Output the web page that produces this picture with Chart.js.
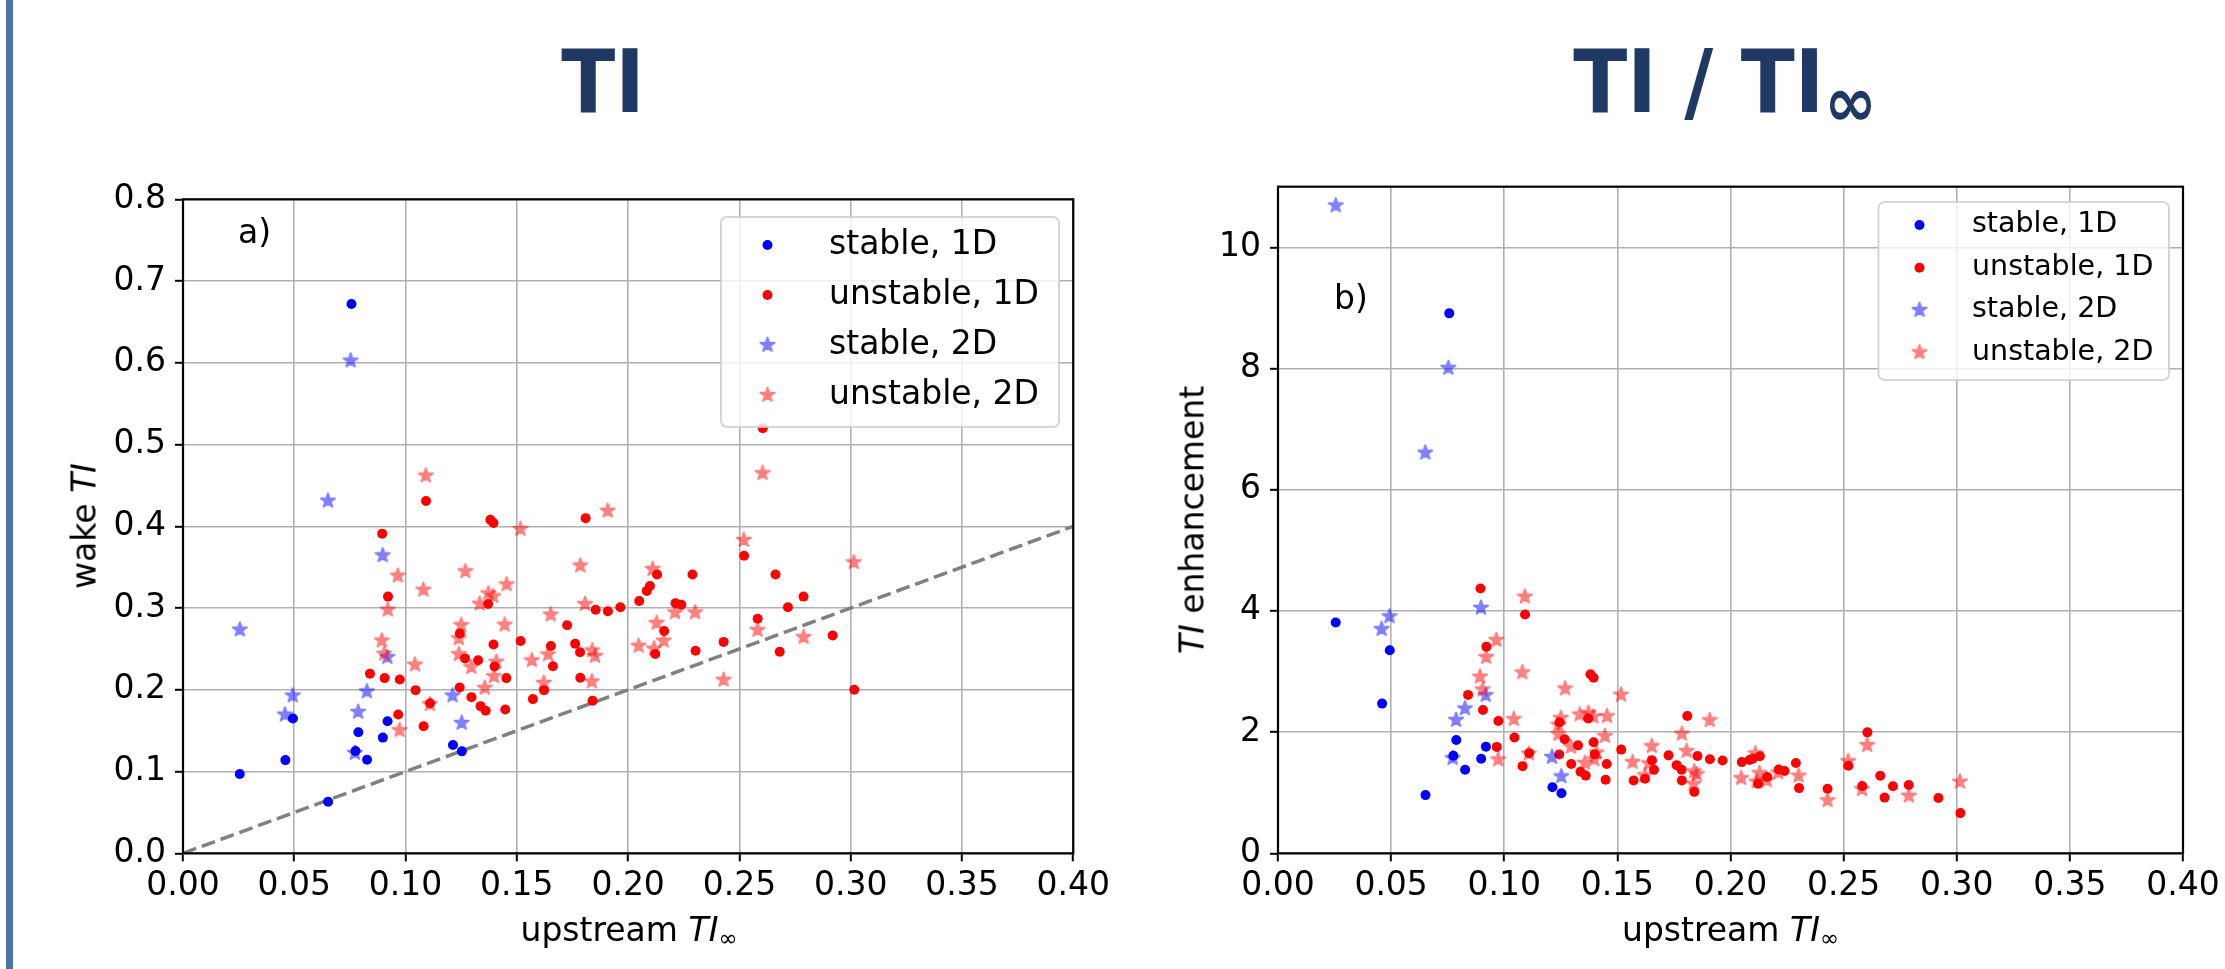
<!DOCTYPE html>
<html>
<head>
<meta charset="utf-8">
<script src="https://cdn.jsdelivr.net/npm/chart.js@4.4.1/dist/chart.umd.min.js"></script>
<style>
  html, body { margin:0; padding:0; background:#fff; }
  body { width:2225px; height:969px; position:relative; overflow:hidden; font-family:"DejaVu Sans", sans-serif; }
  #bar { position:absolute; left:6px; top:0; width:7px; height:969px; background:#4a73a8; }
  .title { position:absolute; top:38px; font-family:"Liberation Sans Narrow","Arial Narrow","DejaVu Sans Condensed",sans-serif; font-stretch:condensed; font-weight:bold; font-size:88px; line-height:88px; color:#1f3864; white-space:nowrap; transform:translateX(-50%); }
  .title .inf { font-size:70px; line-height:0; position:relative; top:14px; }
  canvas { position:absolute; top:0; }
  .lab { position:absolute; font-family:"DejaVu Sans", sans-serif; font-size:33px; line-height:33px; color:#000; white-space:nowrap; }
  .lab .sub { font-size:23px; line-height:0; position:relative; top:5px; }
  .xl { transform:translate(-50%,-50%); }
  .yl { transform:translate(-50%,-50%) rotate(-90deg); }
</style>
</head>
<body>
<div id="bar"></div>
<div class="title" style="left:603px;">TI</div>
<div class="title" style="left:1725px;">TI / TI<span class="inf">∞</span></div>
<canvas id="c1" width="1115" height="969" style="left:0;width:1115px;height:969px;"></canvas>
<canvas id="c2" width="1115" height="969" style="left:1110px;width:1115px;height:969px;"></canvas>
<div class="lab xl" style="left:629px; top:928.6px;">upstream <i>TI</i><span class="sub">∞</span></div>
<div class="lab xl" style="left:1730.5px; top:928.6px;">upstream <i>TI</i><span class="sub">∞</span></div>
<div class="lab yl" style="left:83.6px; top:526.3px;">wake <i>TI</i></div>
<div class="lab yl" style="left:1191.6px; top:520px;"><i>TI</i> enhancement</div>
<div class="lab" style="left:238px; top:215px;">a)</div>
<div class="lab" style="left:1334px; top:281px;">b)</div>
<script>
// ---------------- data ----------------
const stable1D_x    = [0.0255, 0.046, 0.0494, 0.0652, 0.0757, 0.0775, 0.0788, 0.0827, 0.0898, 0.0919, 0.1213, 0.1253];
const stable1D_wake = [0.097, 0.114, 0.165, 0.063, 0.672, 0.125, 0.148, 0.1145, 0.1415, 0.1616, 0.1325, 0.1247];
const stable1D_enh  = [3.81, 2.47, 3.35, 0.96, 8.91, 1.61, 1.87, 1.38, 1.56, 1.76, 1.09, 0.99];

const unstable1D_x = [0.1092, 0.1381, 0.1395, 0.1809, 0.0895, 0.0921, 0.1371, 0.1854, 0.1909, 0.1965, 0.2050, 0.2084, 0.2098, 0.2130, 0.2289, 0.2213, 0.2239, 0.2521, 0.2662, 0.2788, 0.2718, 0.2582, 0.2919, 0.2681, 0.2429, 0.2303, 0.2162, 0.2122, 0.1726, 0.1762, 0.1784, 0.1653, 0.1662, 0.1517, 0.1395, 0.1244, 0.1267, 0.1326, 0.1400, 0.1453, 0.1785, 0.1622, 0.1572, 0.1840, 0.1448, 0.1360, 0.1337, 0.1296, 0.1243, 0.1045, 0.0974, 0.0906, 0.0840, 0.0967, 0.1081, 0.3016, 0.1110, 0.2605];
const unstable1D_wake = [0.431, 0.408, 0.404, 0.410, 0.391, 0.314, 0.305, 0.298, 0.296, 0.301, 0.3086, 0.321, 0.327, 0.341, 0.341, 0.306, 0.304, 0.364, 0.341, 0.314, 0.301, 0.287, 0.2665, 0.2465, 0.2586, 0.2478, 0.272, 0.2437, 0.279, 0.2563, 0.246, 0.2535, 0.2288, 0.2596, 0.2555, 0.269, 0.2384, 0.2362, 0.2286, 0.2143, 0.2147, 0.1996, 0.1886, 0.1865, 0.1759, 0.1743, 0.180, 0.191, 0.2029, 0.1996, 0.2127, 0.2143, 0.2196, 0.1698, 0.1555, 0.200, 0.1835, 0.520];
const unstable1D_enh = [3.94, 2.954, 2.896, 2.266, 4.37, 3.41, 2.225, 1.607, 1.551, 1.532, 1.505, 1.540, 1.559, 1.601, 1.490, 1.383, 1.358, 1.444, 1.281, 1.126, 1.107, 1.112, 0.913, 0.919, 1.065, 1.076, 1.258, 1.148, 1.616, 1.455, 1.379, 1.534, 1.377, 1.711, 1.832, 2.162, 1.882, 1.781, 1.633, 1.475, 1.203, 1.231, 1.200, 1.014, 1.215, 1.282, 1.346, 1.474, 1.632, 1.910, 2.184, 2.365, 2.614, 1.756, 1.438, 0.663, 1.653, 1.996];

const stable2D_x    = [0.0255, 0.0458, 0.0493, 0.0651, 0.0753, 0.0772, 0.0787, 0.0826, 0.0897, 0.0918, 0.1211, 0.1252];
const stable2D_wake = [0.2736, 0.1697, 0.193, 0.4313, 0.6027, 0.1227, 0.173, 0.198, 0.3645, 0.240, 0.193, 0.1595];
const stable2D_enh  = [10.69, 3.70, 3.91, 6.61, 8.01, 1.57, 2.20, 2.39, 4.05, 2.61, 1.59, 1.27];

const unstable2D_x = [0.1091, 0.1516, 0.1908, 0.2604, 0.2520, 0.3014, 0.0965, 0.1269, 0.1080, 0.1454, 0.1372, 0.1394, 0.1333, 0.0920, 0.1785, 0.2110, 0.1806, 0.1652, 0.1445, 0.1250, 0.1239, 0.0893, 0.0904, 0.1239, 0.1408, 0.1295, 0.1397, 0.1356, 0.1042, 0.1109, 0.0973, 0.1567, 0.1640, 0.1621, 0.1839, 0.1851, 0.1837, 0.2047, 0.2116, 0.2128, 0.2160, 0.2211, 0.2301, 0.2429, 0.2581, 0.2788];
const unstable2D_wake = [0.462, 0.3967, 0.419, 0.465, 0.3833, 0.356, 0.3396, 0.345, 0.3224, 0.329, 0.318, 0.3145, 0.3052, 0.298, 0.352, 0.3478, 0.3049, 0.292, 0.2796, 0.2791, 0.2629, 0.2603, 0.2442, 0.2436, 0.2343, 0.2278, 0.2165, 0.2024, 0.2308, 0.1824, 0.1506, 0.236, 0.2432, 0.2085, 0.2482, 0.2414, 0.2102, 0.2538, 0.2503, 0.2818, 0.260, 0.2947, 0.2947, 0.2122, 0.2731, 0.2645];
const unstable2D_enh = [4.235, 2.617, 2.196, 1.786, 1.521, 1.181, 3.519, 2.719, 2.985, 2.263, 2.318, 2.256, 2.290, 3.239, 1.972, 1.648, 1.688, 1.768, 1.935, 2.233, 2.122, 2.915, 2.701, 1.966, 1.664, 1.759, 1.550, 1.493, 2.215, 1.645, 1.548, 1.506, 1.483, 1.286, 1.350, 1.304, 1.144, 1.240, 1.183, 1.324, 1.204, 1.333, 1.281, 0.874, 1.058, 0.949];

const diag_x = [0, 0.4];
const diag_y = [0, 0.4];

const seriesLabels = ['stable, 1D', 'unstable, 1D', 'stable, 2D', 'unstable, 2D'];
const xTicks = [0, 0.05, 0.10, 0.15, 0.20, 0.25, 0.30, 0.35, 0.40];
const xTickLabels = ['0.00', '0.05', '0.10', '0.15', '0.20', '0.25', '0.30', '0.35', '0.40'];
const yTicksA = [0, 0.1, 0.2, 0.3, 0.4, 0.5, 0.6, 0.7, 0.8];
const yTickLabelsA = ['0.0', '0.1', '0.2', '0.3', '0.4', '0.5', '0.6', '0.7', '0.8'];
const yTicksB = [0, 2, 4, 6, 8, 10];
const yTickLabelsB = ['0', '2', '4', '6', '8', '10'];

// ---------------- helpers ----------------
function pts(xs, ys) { return xs.map((x, i) => ({ x: x, y: ys[i] })); }

function starImage(color, R, lw, alpha) {
  const s = 2 * Math.ceil(R + lw + 2);
  const a = document.createElement('canvas');
  a.width = s; a.height = s;
  const g = a.getContext('2d');
  const cx = s / 2, cy = s / 2;
  g.beginPath();
  for (let i = 0; i < 10; i++) {
    const r = (i % 2 === 0) ? R : R * 0.381966;
    const ang = -Math.PI / 2 + i * Math.PI / 5;
    const px = cx + r * Math.cos(ang), py = cy + r * Math.sin(ang);
    if (i === 0) g.moveTo(px, py); else g.lineTo(px, py);
  }
  g.closePath();
  g.fillStyle = color;
  g.fill();
  g.lineJoin = 'bevel';
  g.lineWidth = lw;
  g.strokeStyle = color;
  g.stroke();
  const c = document.createElement('canvas');
  c.width = s; c.height = s;
  const h = c.getContext('2d');
  h.globalAlpha = alpha;
  h.drawImage(a, 0, 0);
  return c;
}
const STAR_R = 8.0;
const blueStar = starImage('#0000ff', STAR_R, 1.6, 0.5);
const redStar = starImage('#ff0000', STAR_R, 1.6, 0.5);
const DOT_R = 5.0;

const framePlugin = {
  id: 'frame',
  afterDatasetsDraw(chart) {
    const a = chart.chartArea, ctx = chart.ctx;
    ctx.save();
    ctx.strokeStyle = '#000';
    ctx.lineWidth = 2.2;
    ctx.strokeRect(a.left, a.top, a.right - a.left, a.bottom - a.top);
    ctx.restore();
  }
};

const boxLegend = {
  id: 'boxLegend',
  afterDraw(chart, args, o) {
    if (!o || !o.box) return;
    const ctx = chart.ctx;
    ctx.save();
    ctx.beginPath();
    ctx.roundRect(o.box.x, o.box.y, o.box.w, o.box.h, 6);
    ctx.fillStyle = 'rgba(255,255,255,0.8)';
    ctx.fill();
    ctx.strokeStyle = 'rgba(204,204,204,0.8)';
    ctx.lineWidth = 2;
    ctx.stroke();
    const items = chart.data.datasets.filter(d => d.legendRow !== undefined);
    items.forEach(d => {
      const y = o.rows[d.legendRow];
      const st = d.pointStyle;
      if (st && typeof st === 'object') {
        ctx.drawImage(st, o.markerX - st.width / 2, y - st.height / 2);
      } else {
        ctx.beginPath();
        ctx.arc(o.markerX, y, DOT_R, 0, Math.PI * 2);
        ctx.fillStyle = d.backgroundColor;
        ctx.fill();
      }
      ctx.fillStyle = '#000';
      ctx.font = o.fontSize + 'px "DejaVu Sans"';
      ctx.textAlign = 'left';
      ctx.textBaseline = 'middle';
      ctx.fillText(d.label, o.textX, y);
    });
    ctx.restore();
  }
};

function datasets(yS1, yU1, yS2, yU2, withDiag) {
  const ds = [
    { label: seriesLabels[0], legendRow: 0, data: pts(stable1D_x, yS1), pointStyle: 'circle', pointRadius: DOT_R, backgroundColor: '#0000ff', borderWidth: 0, order: 4 },
    { label: seriesLabels[1], legendRow: 1, data: pts(unstable1D_x, yU1), pointStyle: 'circle', pointRadius: DOT_R, backgroundColor: '#ff0000', borderWidth: 0, order: 3 },
    { label: seriesLabels[2], legendRow: 2, data: pts(stable2D_x, yS2), pointStyle: blueStar, pointRadius: STAR_R, backgroundColor: 'rgba(0,0,255,0.5)', borderWidth: 0, order: 2 },
    { label: seriesLabels[3], legendRow: 3, data: pts(unstable2D_x, yU2), pointStyle: redStar, pointRadius: STAR_R, backgroundColor: 'rgba(255,0,0,0.5)', borderWidth: 0, order: 1 }
  ];
  if (withDiag) {
    ds.push({ type: 'line', data: pts(diag_x, diag_y), showLine: true, borderColor: '#808080', borderWidth: 3.5, borderDash: [14, 6], pointRadius: 0, fill: false, tension: 0, order: 5 });
  }
  return ds;
}

function scaleOpts(ticks, labels, min, max, isX, fitSize) {
  return {
    type: 'linear', min: min, max: max,
    afterBuildTicks: s => { s.ticks = ticks.map(v => ({ value: v })); },
    afterFit: s => { if (isX) s.height = fitSize; else s.width = fitSize; },
    ticks: { callback: (v, i) => labels[i], font: { size: 33, family: 'DejaVu Sans' }, color: '#000', padding: isX ? 5 : 9, maxRotation: 0, minRotation: 0, autoSkip: false },
    grid: { color: '#b0b0b0', lineWidth: 1.6, tickColor: '#000', tickLength: 8, tickWidth: 2, drawTicks: true },
    border: { display: false }
  };
}

Chart.defaults.font.family = 'DejaVu Sans';

new Chart(document.getElementById('c1'), {
  type: 'scatter',
  data: { datasets: datasets(stable1D_wake, unstable1D_wake, stable2D_wake, unstable2D_wake, true) },
  options: {
    responsive: false, animation: false, devicePixelRatio: 1, events: [],
    layout: { padding: { left: 0, top: 199.3, right: 40, bottom: 0 } },
    plugins: {
      legend: { display: false }, tooltip: { enabled: false },
      boxLegend: { box: { x: 721, y: 217, w: 338, h: 210 }, markerX: 767.5, textX: 829, rows: [245, 295, 345, 395], fontSize: 33 }
    },
    scales: {
      x: scaleOpts(xTicks, xTickLabels, 0, 0.4, true, 969 - 853.3),
      y: scaleOpts(yTicksA, yTickLabelsA, 0, 0.8, false, 183)
    }
  },
  plugins: [framePlugin, boxLegend]
});

new Chart(document.getElementById('c2'), {
  type: 'scatter',
  data: { datasets: datasets(stable1D_enh, unstable1D_enh, stable2D_enh, unstable2D_enh, false) },
  options: {
    responsive: false, animation: false, devicePixelRatio: 1, events: [],
    layout: { padding: { left: 0, top: 186.7, right: 42, bottom: 0 } },
    plugins: {
      legend: { display: false }, tooltip: { enabled: false },
      boxLegend: { box: { x: 768.5, y: 202, w: 290.5, h: 178 }, markerX: 809.5, textX: 862, rows: [225, 267.7, 310, 352.3], fontSize: 28.5 }
    },
    scales: {
      x: scaleOpts(xTicks, xTickLabels, 0, 0.4, true, 969 - 853.3),
      y: scaleOpts(yTicksB, yTickLabelsB, 0, 11, false, 168)
    }
  },
  plugins: [framePlugin, boxLegend]
});
</script>
</body>
</html>
